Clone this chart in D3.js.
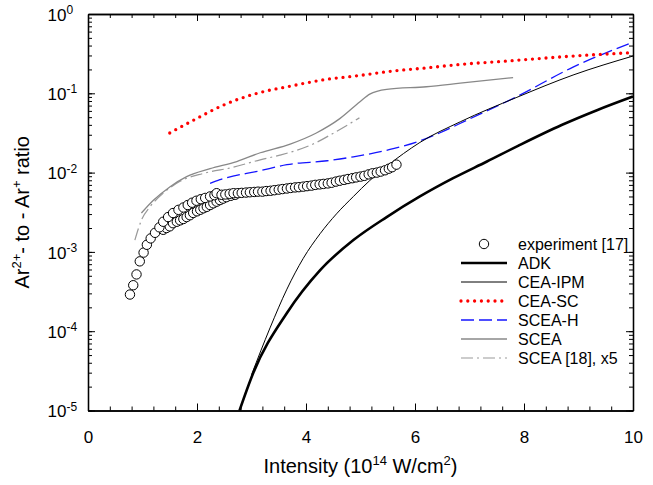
<!DOCTYPE html>
<html>
<head>
<meta charset="utf-8">
<script src="https://cdn.jsdelivr.net/npm/d3@7"></script>
<style>
body { margin: 0; background: #fff; }
svg text { font-family: "Liberation Sans", Arial, Helvetica, sans-serif; fill: #000; }
</style>
</head>
<body>
<div id="mainDiv"></div>
<script>
'use strict';

// experiment [17] - main scan
var expI = [0.77,0.83,0.89,0.95,1.02,1.08,1.15,1.23,1.31,1.38,1.47,1.56,1.66,1.75,1.83,1.91,1.99,2.07,2.15,2.24,2.32,2.36,2.45,
    2.52,2.60,2.67,2.75,2.82,2.90,2.97,3.05,3.12,3.20,3.27,3.35,3.42,3.50,3.57,3.65,3.72,3.80,3.87,3.95,
    4.02,4.10,4.17,4.25,4.32,4.40,4.47,4.55,4.62,4.70,4.77,4.85,4.92,5.00,5.07,5.15,5.22,5.30,5.37,5.45,5.52,5.58,5.66];
var expR = [2.9e-4,3.8e-4,5.2e-4,7.6e-4,9.8e-4,1.23e-3,1.48e-3,1.74e-3,2.04e-3,2.40e-3,2.75e-3,3.09e-3,3.39e-3,3.63e-3,3.9e-3,4.17e-3,4.42e-3,4.62e-3,4.79e-3,5.0e-3,5.19e-3,5.5e-3,5.25e-3,
    5.3e-3,5.4e-3,5.5e-3,5.5e-3,5.55e-3,5.6e-3,5.65e-3,5.7e-3,5.75e-3,5.75e-3,5.85e-3,5.9e-3,6.0e-3,6.1e-3,6.2e-3,6.3e-3,6.4e-3,6.5e-3,6.55e-3,6.65e-3,
    6.75e-3,6.85e-3,7.0e-3,7.1e-3,7.2e-3,7.3e-3,7.45e-3,7.7e-3,7.9e-3,8.1e-3,8.3e-3,8.5e-3,8.7e-3,8.9e-3,9.1e-3,9.5e-3,9.8e-3,1.0e-2,1.03e-2,1.07e-2,1.12e-2,1.17e-2,1.26e-2];

// experiment [17] - second (lower) scan
var exp2I = [1.38,1.44,1.50,1.56,1.63,1.69,1.75,1.81,1.87,1.93,2.00,2.06,2.12,2.18,2.24,2.30,2.36,2.42,2.48,2.54,2.62,2.70];
var exp2R = [1.9e-3,2.0e-3,2.1e-3,2.3e-3,2.4e-3,2.5e-3,2.6e-3,2.75e-3,2.9e-3,3.1e-3,3.25e-3,3.4e-3,3.55e-3,3.7e-3,3.9e-3,4.1e-3,4.3e-3,4.5e-3,4.7e-3,4.9e-3,5.1e-3,5.25e-3];

var adkI = [2.78,3.03,3.65,4.26,4.87,5.48,6.09,6.70,7.32,7.90,8.69,9.35,10];
var adkR = [1.0e-5,2.95e-5,1.70e-4,5.9e-4,1.41e-3,2.75e-3,5.0e-3,8.5e-3,1.38e-2,2.19e-2,3.98e-2,6.17e-2,9.12e-2];

var ipmI = [3.0,3.34,3.65,3.95,4.26,4.56,4.87,5.17,5.48,5.79,6.09,6.83,7.87,8.9,10];
var ipmR = [2.82e-5,1.10e-4,3.39e-4,8.3e-4,1.70e-3,3.02e-3,5.0e-3,7.94e-3,1.20e-2,1.74e-2,2.40e-2,4.37e-2,8.9e-2,0.170,0.295];

var scI = [1.5,1.99,2.48,3.10,3.71,4.32,4.93,5.60,6.21,6.76,7.68,8.9,10];
var scR = [0.0316,0.0479,0.0708,0.100,0.123,0.148,0.166,0.191,0.209,0.229,0.255,0.295,0.326];

var sceahI = [2.24,2.42,3.16,3.65,4.39,4.87,5.6,6.09,6.45,6.95,7.87,8.9,10];
var sceahR = [7.33e-3,8.13e-3,1.057e-2,1.26e-2,1.41e-2,1.58e-2,2.0e-2,2.51e-2,3.16e-2,4.57e-2,9.1e-2,0.214,0.44];

var sceaI = [0.98,1.2,1.5,1.81,2.24,2.73,3.16,3.71,4.19,4.62,4.99,5.17,5.48,6.21,6.83,7.8];
var sceaR = [3.09e-3,4.47e-3,6.6e-3,8.9e-3,1.12e-2,1.38e-2,1.78e-2,2.29e-2,3.16e-2,4.79e-2,7.83e-2,9.77e-2,0.112,0.121,0.134,0.158];

var scea18I = [0.86,0.98,1.14,1.38,1.69,2.12,2.67,3.16,3.52,4.13,4.56,4.98];
var scea18R = [1.41e-3,2.51e-3,3.72e-3,5.5e-3,7.76e-3,9.77e-3,1.17e-2,1.45e-2,1.66e-2,2.29e-2,3.31e-2,4.9e-2];

// ticks
var xTicks = [0, 2, 4, 6, 8, 10];
var yTicks = [1e-5, 1e-4, 1e-3, 1e-2, 1e-1, 1];
var yTickExp = ['-5', '-4', '-3', '-2', '-1', '0'];

var legendNames = ['experiment [17]', 'ADK', 'CEA-IPM', 'CEA-SC', 'SCEA-H', 'SCEA', 'SCEA [18], x5'];

var plot = {};
plot.W = 653;
plot.H = 485;
plot.left = 88;
plot.right = 633;
plot.top = 14;
plot.bottom = 410.5;

// line styles, same order as legend (minus experiment)
plot.styles = [
    {color: '#000', width: 2.6, dash: null},
    {color: '#000', width: 1, dash: null},
    {color: '#ff0000', width: 3.3, dash: '0,6.8', cap: 'round'},
    {color: '#1414ff', width: 1.3, dash: '13,5'},
    {color: '#888', width: 1.3, dash: null},
    {color: '#999', width: 1.2, dash: '12,4,2,4'}
];

plot.x = d3.scaleLinear().domain([0, 10]).range([plot.left, plot.right]);
plot.y = d3.scaleLog().domain([1e-5, 1]).range([plot.bottom, plot.top]);

plot.zip = function(a, b)
{
    return a.map(function(v, i){ return [v, b[i]]; });
}

plot.drawAxes = function(svg)
{
    var x = plot.x, y = plot.y;
    var xMinor = d3.range(0, 10.001, 0.4);
    var yMinor = y.ticks();

    var g = svg.append('g').attr('class', 'axes');

    //minor ticks, all four sides
    g.append('g').attr('transform', 'translate(0,' + plot.bottom + ')')
        .call(d3.axisBottom(x).tickValues(xMinor).tickSizeInner(-4).tickSizeOuter(0).tickFormat(''));
    g.append('g').attr('transform', 'translate(0,' + plot.top + ')')
        .call(d3.axisTop(x).tickValues(xMinor).tickSizeInner(-4).tickSizeOuter(0).tickFormat(''));
    g.append('g').attr('transform', 'translate(' + plot.left + ',0)')
        .call(d3.axisLeft(y).tickValues(yMinor).tickSizeInner(-4).tickSizeOuter(0).tickFormat(''));
    g.append('g').attr('transform', 'translate(' + plot.right + ',0)')
        .call(d3.axisRight(y).tickValues(yMinor).tickSizeInner(-4).tickSizeOuter(0).tickFormat(''));

    //major ticks
    var xb = g.append('g').attr('transform', 'translate(0,' + plot.bottom + ')')
        .call(d3.axisBottom(x).tickValues(xTicks).tickSizeInner(-7).tickSizeOuter(0).tickPadding(20.5)
            .tickFormat(function(d){ return d; }));
    xb.selectAll('text').style('font-size', '17px');

    g.append('g').attr('transform', 'translate(0,' + plot.top + ')')
        .call(d3.axisTop(x).tickValues(xTicks).tickSizeInner(-7).tickSizeOuter(0).tickFormat(''));

    var yl = g.append('g').attr('transform', 'translate(' + plot.left + ',0)')
        .call(d3.axisLeft(y).tickValues(yTicks).tickSizeInner(-7).tickSizeOuter(0).tickFormat(function(){ return '10'; }));
    yl.selectAll('text')
        .attr('x', -40.5)
        .attr('dy', '0.36em')
        .attr('text-anchor', 'start')
        .style('font-size', '17px')
        .each(function(d, i){
            d3.select(this).append('tspan')
                .attr('dy', -6.5)
                .style('font-size', '12px')
                .text(yTickExp[i]);
        });

    g.append('g').attr('transform', 'translate(' + plot.right + ',0)')
        .call(d3.axisRight(y).tickValues(yTicks).tickSizeInner(-7).tickSizeOuter(0).tickFormat(''));

    g.selectAll('.domain').attr('stroke', '#000').attr('stroke-width', 1.3);
    g.selectAll('.tick line').attr('stroke', '#000').attr('stroke-width', 1);
}

plot.addAxisLabel = function(svg)
{
    var cx = (plot.left + plot.right) / 2;
    var t = svg.append('text')
        .attr('x', cx)
        .attr('y', 473)
        .attr('text-anchor', 'middle')
        .style('font-size', '20px');
    t.append('tspan').text('Intensity (10');
    t.append('tspan').attr('dy', -8).style('font-size', '13px').text('14');
    t.append('tspan').attr('dy', 8).text(' W/cm');
    t.append('tspan').attr('dy', -8).style('font-size', '13px').text('2');
    t.append('tspan').attr('dy', 8).text(')');

    var cy = (plot.top + plot.bottom) / 2;
    var v = svg.append('text')
        .attr('transform', 'translate(29,' + cy + ') rotate(-90)')
        .attr('text-anchor', 'middle')
        .style('font-size', '20px');
    v.append('tspan').text('Ar');
    v.append('tspan').attr('dy', -8).style('font-size', '13px').text('2+');
    v.append('tspan').attr('dy', 8).text('- to - Ar');
    v.append('tspan').attr('dy', -8).style('font-size', '13px').text('+');
    v.append('tspan').attr('dy', 8).text(' ratio');
}

plot.styleLine = function(sel, st)
{
    sel.attr('fill', 'none')
        .attr('stroke', st.color)
        .attr('stroke-width', st.width)
        .attr('stroke-dasharray', st.dash)
        .attr('stroke-linecap', st.cap || 'butt');
    return sel;
}

plot.drawCurves = function(svg)
{
    var line = d3.line()
        .x(function(d){ return plot.x(d[0]); })
        .y(function(d){ return plot.y(d[1]); })
        .curve(d3.curveMonotoneX);

    var series = [
        plot.zip(adkI, adkR),
        plot.zip(ipmI, ipmR),
        plot.zip(scI, scR),
        plot.zip(sceahI, sceahR),
        plot.zip(sceaI, sceaR),
        plot.zip(scea18I, scea18R)
    ];

    var g = svg.append('g').attr('class', 'curves');
    //draw back to front
    [5, 4, 3, 1, 0, 2].forEach(function(i){
        plot.styleLine(g.append('path').attr('d', line(series[i])), plot.styles[i]);
    });
}

plot.drawPoints = function(svg)
{
    var pts = plot.zip(exp2I, exp2R).concat(plot.zip(expI, expR));
    svg.append('g').attr('class', 'points')
        .selectAll('circle')
        .data(pts)
        .enter()
        .append('circle')
        .attr('cx', function(d){ return plot.x(d[0]); })
        .attr('cy', function(d){ return plot.y(d[1]); })
        .attr('r', 4.7)
        .attr('fill', '#fff')
        .attr('stroke', '#000')
        .attr('stroke-width', 1);
}

plot.addLegend = function(svg)
{
    var g = svg.append('g').attr('class', 'legend');
    var rowY = function(i){ return 244 + i * 19; };

    g.append('circle')
        .attr('cx', 484).attr('cy', rowY(0)).attr('r', 4.7)
        .attr('fill', '#fff').attr('stroke', '#000');

    plot.styles.forEach(function(st, i){
        plot.styleLine(g.append('line')
            .attr('x1', 461).attr('x2', 507)
            .attr('y1', rowY(i + 1)).attr('y2', rowY(i + 1)), st);
    });

    g.selectAll('text')
        .data(legendNames)
        .enter()
        .append('text')
        .attr('x', 518)
        .attr('y', function(d, i){ return rowY(i); })
        .attr('dy', '0.36em')
        .style('font-size', '16px')
        .text(function(d){ return d; });
}

plot.run = function()
{
    var svg = d3.select('#mainDiv').append('svg')
        .attr('width', plot.W)
        .attr('height', plot.H);

    plot.drawCurves(svg);
    plot.drawPoints(svg);
    plot.drawAxes(svg);
    plot.addLegend(svg);
    plot.addAxisLabel(svg);
}

window.onload = plot.run;
</script>
</body>
</html>
